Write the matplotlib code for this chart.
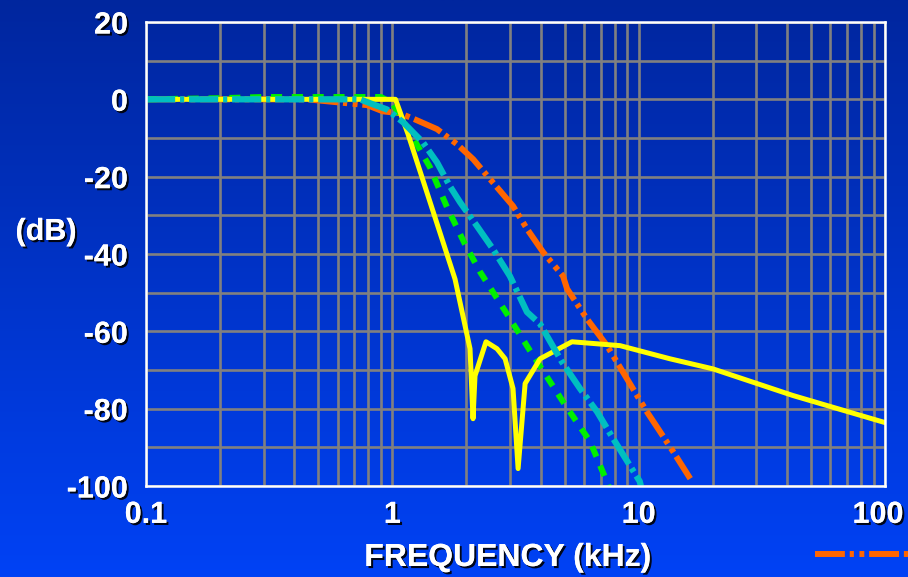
import numpy as np
import matplotlib
matplotlib.use("Agg")
import matplotlib.pyplot as plt
import matplotlib.patheffects as pe
import matplotlib.transforms as mtransforms
from matplotlib.ticker import FixedLocator, NullFormatter, FuncFormatter

plt.rcParams['font.family'] = ['Liberation Sans', 'DejaVu Sans']
plt.rcParams['lines.scale_dashes'] = False
plt.rcParams['axes.unicode_minus'] = False

# ---- data ----
yellow_f = [0.1, 1.03, 1.158, 1.797, 2.067, 2.126, 2.166, 2.40, 2.66, 2.87, 3.09, 3.24,
            3.46, 3.98, 5.36, 8.40, 13.4, 20.0, 42.3, 100]
yellow_db = [0, 0, -9.0, -46.5, -64.5, -82.6, -71.5, -62.7, -64.5, -67.1, -74.8, -95.5,
             -73.5, -67.1, -62.7, -63.7, -67.1, -69.7, -76.6, -83.6]

green_f = [0.1, 0.2, 0.3, 0.9, 1.0, 1.158, 1.42, 1.667, 1.97, 2.27, 2.92, 3.62, 4.93, 6.35, 7.51, 7.7]
green_db = [0, 0.3, 0.6, 0.6, -1.0, -7.7, -17.5, -27.9, -37.4, -44.6, -55.5, -65.0, -78.2, -88.5, -99.6, -102]

cyan_f = [0.1, 0.739, 0.835, 0.95, 1.105, 1.33, 1.518, 1.714, 1.883, 2.207, 2.56, 3.00,
          3.52, 3.98, 4.88, 5.78, 6.78, 7.87, 10.1, 10.4]
cyan_db = [0, 0, -1.3, -2.6, -5.9, -11.1, -16.3, -22.5, -26.6, -32.8, -38.7, -45.7,
           -55.0, -58.1, -67.9, -74.8, -80.8, -87.7, -98.8, -102]

orange_f = [0.1, 0.45, 0.79, 0.915, 1.074, 1.236, 1.518, 1.83, 2.13, 2.49, 3.09, 3.52,
            4.09, 4.93, 5.12, 6.17, 7.44, 8.97, 10.8, 12.2, 13.8, 16.2]
orange_db = [0, 0, -1.5, -3.1, -3.6, -5.2, -7.7, -11.6, -15.5, -20.6, -27.6, -33.5,
             -39.5, -45.7, -49.0, -56.8, -63.7, -72.3, -80.8, -85.9, -91.1, -98.1]

x_ticks = [0.1, 1, 10, 100]
x_labels = ['0.1', '1', '10', '100']
y_ticks = [-100, -80, -60, -40, -20, 0, 20]

# ---- figure ----
W, H = 908, 577
fig = plt.figure(figsize=(W / 100, H / 100), dpi=100)

# gradient background
bg = fig.add_axes([0, 0, 1, 1], zorder=-10)
grad = np.linspace(0, 1, 256)[:, None, None]
top = np.array([0, 38, 158]) / 255
bot = np.array([0, 66, 245]) / 255
img = top + (bot - top) * grad
bg.imshow(np.repeat(img, 2, axis=1), aspect='auto', extent=[0, 1, 0, 1])
bg.axis('off')

ax = fig.add_axes([146 / W, 1 - 486 / H, (885 - 146) / W, (486 - 22) / H])
ax.set_facecolor('none')
ax.set_xscale('log')
ax.set_xlim(0.1, 100)
ax.set_ylim(-100, 20)

shadow = [pe.withSimplePatchShadow(offset=(1.5, -1.5), shadow_rgbFace='black', alpha=0.9), pe.Normal()]

lo, = ax.plot(orange_f, orange_db, color='#FF6600', lw=4.3, dashes=(21.5, 3.5, 3, 4, 3.5, 3.5),
              dash_capstyle='butt', zorder=3, label='Bessel')
ax.plot(green_f, green_db, color='#00F000', lw=4.3, dashes=(8, 7), dash_capstyle='butt', zorder=4)
ax.plot(yellow_f, yellow_db, color='#FFFF00', lw=3.6, zorder=5, solid_joinstyle='round')
ax.plot(cyan_f, cyan_db, color='#00BFC0', lw=4.5, dashes=(21, 3.5, 3, 3.5), dash_capstyle='butt', zorder=6)

# ticks & grid
ax.xaxis.set_major_locator(FixedLocator(x_ticks))
ax.xaxis.set_major_formatter(FuncFormatter(lambda v, p: x_labels[x_ticks.index(v)] if v in x_ticks else ''))
minor_x = [m * 10.0 ** e for e in range(-1, 2) for m in range(2, 10)]
ax.xaxis.set_minor_locator(FixedLocator(minor_x))
ax.xaxis.set_minor_formatter(NullFormatter())
ax.yaxis.set_major_locator(FixedLocator(y_ticks))
ax.yaxis.set_minor_locator(FixedLocator(list(range(-90, 20, 20))))
ax.grid(True, which='both', color='#808080', lw=1.9, zorder=1)
ax.set_axisbelow(True)
ax.tick_params(which='both', length=0)
ax.tick_params(axis='x', pad=10, labelsize=22, labelcolor='white')
ax.tick_params(axis='y', pad=13, labelsize=22, labelcolor='white')
for lab in ax.get_xticklabels() + ax.get_yticklabels():
    lab.set_fontweight('bold')
    lab.set_path_effects(shadow)

# nudge the rightmost x label inward so it stays on the canvas (as in the reference)
last_tick = ax.xaxis.get_major_ticks()[-1]
last_tick.label1.set_transform(last_tick.label1.get_transform() +
                               mtransforms.ScaledTranslation(-7 / 100, 0, fig.dpi_scale_trans))

for s in ax.spines.values():
    s.set_color('white')
    s.set_linewidth(1.8)
    s.set_zorder(7)

ax.set_xlabel('FREQUENCY (kHz)', fontsize=23, fontweight='bold', color='white', path_effects=shadow)
ax.xaxis.set_label_coords((508 - 146) / 739, (486 - 543) / 464)
ax.set_ylabel('(dB)', fontsize=22, fontweight='bold', color='white', rotation=0,
              ha='center', va='center', path_effects=shadow)
ax.yaxis.set_label_coords((46 - 146) / 739, (486 - 232) / 464)

# legend fragment (its label lies beyond the canvas in the reference)
fig.legend(handles=[lo], labels=[' '], loc='center left', bbox_to_anchor=(815 / W, 1 - 557 / H),
           frameon=False, handlelength=3.4, borderpad=0, borderaxespad=0,
           handletextpad=0.5, fontsize=20, labelcolor='white')

fig.savefig('out.png', dpi=100)
